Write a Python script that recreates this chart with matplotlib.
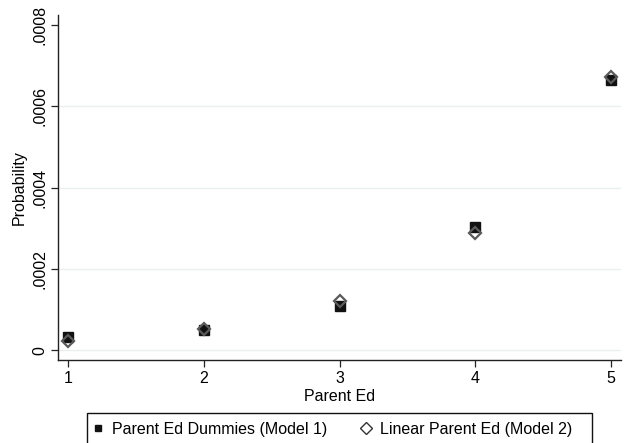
import numpy as np
import matplotlib
matplotlib.use("Agg")
import matplotlib.pyplot as plt
from matplotlib.patches import Rectangle

plt.rcParams.update({
    "font.family": ["Liberation Sans", "DejaVu Sans"],
    "font.size": 11.5,
})

# Datos
parent_ed = [1, 2, 3, 4, 5]
prob_dummies = [0.0000325, 0.0000500, 0.0001090, 0.0003040, 0.0006640]
prob_linear = [0.0000230, 0.0000515, 0.0001210, 0.0002880, 0.0006720]
yticks = [0, 0.0002, 0.0004, 0.0006, 0.0008]
ytick_labels = ["0", ".0002", ".0004", ".0006", ".0008"]
grid_levels = [0, 0.0002, 0.0004, 0.0006]

W, H = 627, 443
fig = plt.figure(figsize=(W / 100, H / 100), dpi=100)
ax = fig.add_axes([58.3 / W, 1 - 360.3 / H, (621 - 58.3) / W, (360.3 - 15) / H])

for g in grid_levels:
    ax.axhline(g, color="#e8f0f1", lw=1.0, zorder=0)

ax.plot(parent_ed, prob_dummies, ls="none", marker="s", ms=6.5,
        mfc="#111111", mec="#111111", label="Parent Ed Dummies (Model 1)", zorder=3)
ax.plot(parent_ed, prob_linear, ls="none", marker="D", ms=6.5,
        mfc="none", mec="#5a5a5a", mew=1.6, label="Linear Parent Ed (Model 2)", zorder=4)

ax.set_xlim(0.926, 5.076)
ax.set_ylim(-0.0000246, 0.000825)
ax.set_xticks(parent_ed)
ax.set_yticks(yticks)
ax.set_yticklabels(ytick_labels, rotation=90, va="center")
ax.tick_params(direction="out", length=5, width=0.9, color="#222222", pad=3)
for s in ["top", "right"]:
    ax.spines[s].set_visible(False)
for s in ["left", "bottom"]:
    ax.spines[s].set_linewidth(1.0)
    ax.spines[s].set_color("#222222")

ax.set_xlabel("Parent Ed", labelpad=2)
ax.set_ylabel("Probability", labelpad=4)

# marco de la leyenda (estilo Stata, cortado abajo)
x0, x1, y_top = 87.3, 591.7, 413.3
fig.add_artist(Rectangle((x0 / W, -8 / H), (x1 - x0) / W, (H + 8 - y_top) / H,
                         transform=fig.transFigure, fill=False,
                         edgecolor="#111111", lw=1.0))

leg = fig.legend(loc="upper left", bbox_to_anchor=((x0 - 1.6) / W, 1 - y_top / H),
                 borderaxespad=0, ncol=2, frameon=False, borderpad=0.55,
                 handletextpad=0.7, columnspacing=2.2, handlelength=0.4)
h_sq, h_di = leg.legend_handles
h_sq.set_markersize(5)
h_di.set_markersize(6)
h_di.set_markeredgecolor("#333333")
h_di.set_markeredgewidth(1.0)

fig.savefig("out.png", dpi=100)
